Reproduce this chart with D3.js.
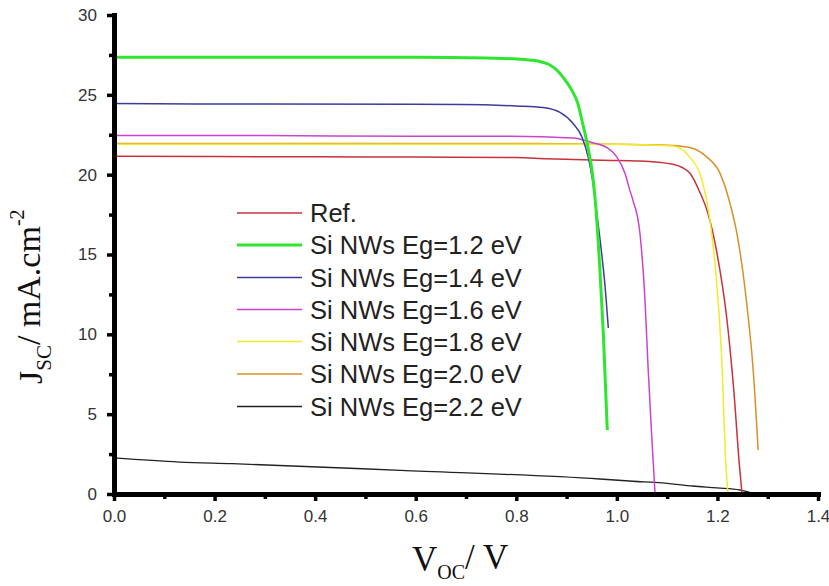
<!DOCTYPE html>
<html><head><meta charset="utf-8">
<script src="https://cdn.jsdelivr.net/npm/d3@7"></script>
<style>
body{margin:0;background:#fff;}
svg{display:block;}
</style></head>
<body>
<svg id="chart" width="829" height="586"></svg>
<script>
// ---- data ----
const xTicks = [0, 0.2, 0.4, 0.6, 0.8, 1.0, 1.2, 1.4];
const yTicks = [0, 5, 10, 15, 20, 25, 30];

const refV = [0, 0.2, 0.4, 0.6, 0.8, 0.86, 0.97, 1.046, 1.111, 1.13, 1.145, 1.165, 1.181, 1.199, 1.219, 1.232, 1.244, 1.249];
const refJ = [21.15, 21.13, 21.12, 21.1, 21.08, 21.0, 20.9, 20.85, 20.65, 20.45, 20.1, 18.9, 17.6, 15.1, 10.9, 6.7, 1.7, 0];

const eg12V = [0, 0.2, 0.4, 0.6, 0.74, 0.8, 0.83, 0.85, 0.865, 0.878, 0.89, 0.9, 0.911, 0.922, 0.932, 0.942, 0.952, 0.957, 0.966, 0.973, 0.981];
const eg12J = [27.35, 27.35, 27.35, 27.35, 27.3, 27.25, 27.17, 27.06, 26.9, 26.62, 26.22, 25.8, 25.25, 24.5, 23.2, 21.8, 19.9, 18.4, 14.2, 10.1, 4.0];

const eg14V = [0, 0.3, 0.69, 0.8, 0.853, 0.887, 0.913, 0.93, 0.943, 0.952, 0.96, 0.97, 0.976, 0.983];
const eg14J = [24.45, 24.42, 24.4, 24.3, 24.2, 23.9, 23.2, 22.4, 21.1, 19.6, 17.6, 15.0, 13.2, 10.4];

const eg16V = [0, 0.3, 0.6, 0.79, 0.913, 0.952, 0.98, 1.0, 1.016, 1.026, 1.032, 1.046, 1.056, 1.062, 1.069, 1.076];
const eg16J = [22.45, 22.45, 22.4, 22.4, 22.3, 22.0, 21.7, 21.1, 20.1, 19.0, 18.4, 16.3, 12.1, 8.0, 3.8, 0];

const eg18V = [0, 0.4, 0.8, 1.0, 1.111, 1.145, 1.169, 1.185, 1.199, 1.208, 1.217, 1.221];
const eg18J = [21.9, 21.9, 21.9, 21.9, 21.8, 21.1, 19.7, 17.2, 13.0, 8.8, 1.7, 0];

const eg20V = [0, 0.4, 0.8, 1.0, 1.1, 1.145, 1.179, 1.205, 1.225, 1.24, 1.258, 1.271, 1.281];
const eg20J = [21.95, 21.95, 21.95, 21.9, 21.85, 21.7, 21.1, 20.1, 18.2, 16.1, 12.0, 7.8, 2.75];

const eg22V = [0, 0.13, 0.235, 0.57, 0.966, 1.032, 1.09, 1.151, 1.199, 1.245, 1.264, 1.27];
const eg22J = [2.26, 2.0, 1.9, 1.48, 0.94, 0.8, 0.7, 0.5, 0.38, 0.25, 0.1, 0.0];

const seriesNames = ["Ref.", "Si NWs Eg=1.2 eV", "Si NWs Eg=1.4 eV", "Si NWs Eg=1.6 eV", "Si NWs Eg=1.8 eV", "Si NWs Eg=2.0 eV", "Si NWs Eg=2.2 eV"];
const seriesV = [refV, eg12V, eg14V, eg16V, eg18V, eg20V, eg22V];
const seriesJ = [refJ, eg12J, eg14J, eg16J, eg18J, eg20J, eg22J];
const seriesColors = ["#c8323c", "#2ee62e", "#3c3c9c", "#cc44cc", "#f2ec28", "#d8902a", "#222222"];
const seriesWidths = [1.5, 3, 1.5, 1.5, 1.5, 1.5, 1.3];
const drawOrder = [6, 0, 5, 4, 3, 2, 1];

// ---- scales ----
const svg = d3.select("#chart");
const x = d3.scaleLinear().domain([0, 1.4]).range([114, 818]);
const y = d3.scaleLinear().domain([0, 30]).range([494, 15]);

// ---- curves ----
const line = d3.line().x(d => x(d[0])).y(d => y(d[1])).curve(d3.curveMonotoneX);
const gLines = svg.append("g").attr("fill", "none");
drawOrder.forEach(i => {
  const pts = seriesV[i].map((v, k) => [v, seriesJ[i][k]]);
  gLines.append("path").attr("d", line(pts))
    .attr("stroke", seriesColors[i]).attr("stroke-width", seriesWidths[i])
    .attr("stroke-linejoin", "round");
});

// ---- axes ----
const fontTick = "'Liberation Sans', Arial, sans-serif";
const xMinor = d3.range(0.1, 1.4, 0.2);
const yMinor = d3.range(2.5, 30, 5);

svg.append("g").attr("transform", `translate(0,${y(0)})`)
  .call(d3.axisBottom(x).tickValues(xTicks).tickFormat(d3.format(".1f")).tickSize(7).tickSizeOuter(0).tickPadding(9));
svg.append("g").attr("transform", `translate(0,${y(0)})`)
  .call(d3.axisBottom(x).tickValues(xMinor).tickFormat("").tickSize(5).tickSizeOuter(0))
  .call(g => g.select(".domain").remove());
svg.append("g").attr("transform", `translate(${x(0)},0)`)
  .call(d3.axisLeft(y).tickValues(yTicks).tickFormat(d3.format("d")).tickSize(7).tickSizeOuter(0).tickPadding(10));
svg.append("g").attr("transform", `translate(${x(0)},0)`)
  .call(d3.axisLeft(y).tickValues(yMinor).tickFormat("").tickSize(5).tickSizeOuter(0))
  .call(g => g.select(".domain").remove());

svg.selectAll(".domain").attr("stroke", "#000").attr("stroke-width", 5).attr("stroke-linecap", "square");
svg.selectAll(".tick line").attr("stroke", "#000").attr("stroke-width", 3.5);
svg.selectAll(".tick text").attr("font-family", fontTick).attr("font-size", 17).attr("fill", "#333");

// ---- axis titles ----
const serif = "'Liberation Serif', 'Times New Roman', serif";
const xt = svg.append("text").attr("x", 412).attr("y", 571)
  .attr("font-family", serif).attr("font-size", 35).attr("fill", "#111");
xt.append("tspan").text("V");
xt.append("tspan").attr("font-size", 20).attr("dy", 8).text("OC");
xt.append("tspan").attr("dy", -10).text("/ V");

const yt = svg.append("text").attr("transform", "translate(42,384) rotate(-90)")
  .attr("font-family", serif).attr("font-size", 34).attr("fill", "#111");
yt.append("tspan").text("J");
yt.append("tspan").attr("font-size", 21).attr("dy", 9).text("SC");
yt.append("tspan").attr("dy", -11).text("/ mA.cm");
yt.append("tspan").attr("font-size", 20).attr("dy", -16).text("-2");

// ---- legend ----
const legendRows = [213, 245, 277.5, 309.5, 341.5, 374, 406.5];
const lg = svg.append("g");
seriesNames.forEach((name, i) => {
  lg.append("line").attr("x1", 237).attr("x2", 302)
    .attr("y1", legendRows[i]).attr("y2", legendRows[i])
    .attr("stroke", seriesColors[i]).attr("stroke-width", seriesWidths[i]);
  lg.append("text").attr("x", 310).attr("y", legendRows[i]).attr("dy", "0.36em")
    .attr("font-family", fontTick).attr("font-size", 25.5).attr("fill", "#222").text(name);
});
</script>
</body></html>
